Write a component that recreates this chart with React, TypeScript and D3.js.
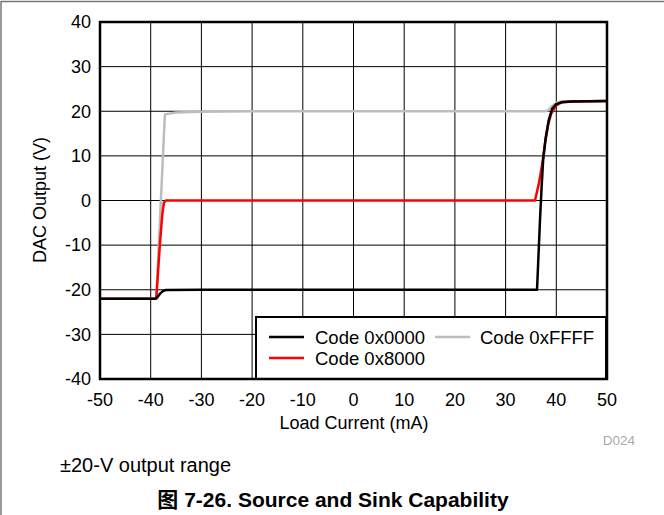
import React from "react";
import * as d3 from "d3";

const xTicks = [-50, -40, -30, -20, -10, 0, 10, 20, 30, 40, 50];
const yTicks = [-40, -30, -20, -10, 0, 10, 20, 30, 40];

// Code 0x0000
const blackX = [-50, -39.1, -38.6, -38.1, -37.6, -37, -30, 0, 36.2, 36.5, 36.8, 37.1, 37.4, 37.9, 38.5, 39.2, 40, 41, 43, 50];
const blackY = [-22, -22, -21.6, -20.8, -20.3, -20.05, -20, -20, -20, -12, -4, 3, 9, 14, 18, 20.6, 21.6, 22, 22.2, 22.3];
// Code 0x8000
const redX = [-50, -38.9, -38.2, -37.7, -37.4, -37, 0, 35.8, 36.6, 37.2, 37.8, 38.4, 39, 40, 41, 43, 50];
const redY = [-22, -22, -10, -3, -0.5, 0, 0, 0, 4, 8, 13, 17, 19.5, 21.3, 22, 22.2, 22.3];
// Code 0xFFFF
const grayX = [-50, -38.9, -37.2, -35, -30, -20, 0, 37.8, 38.5, 39.2, 40, 41, 50];
const grayY = [-22, -22, 19.3, 19.7, 19.9, 20, 20, 20, 20.3, 21.2, 21.9, 22.2, 22.3];

const legendItems = ["Code 0x0000", "Code 0xFFFF", "Code 0x8000"];

const FONT = "'Liberation Sans', Arial, 'Noto Sans CJK SC', sans-serif";

export default function App() {
  const x = d3.scaleLinear().domain([-50, 50]).range([100, 607]);
  const y = d3.scaleLinear().domain([-40, 40]).range([379, 22]);
  const line = d3
    .line<[number, number]>()
    .x((d) => x(d[0]))
    .y((d) => y(d[1]));
  const pts = (xs: number[], ys: number[]) => xs.map((v, i) => [v, ys[i]] as [number, number]);

  const series = [
    { name: legendItems[1], color: "#bdbdbd", d: line(pts(grayX, grayY)) },
    { name: legendItems[2], color: "#ff0000", d: line(pts(redX, redY)) },
    { name: legendItems[0], color: "#000000", d: line(pts(blackX, blackY)) },
  ];

  return (
    <svg
      width={664}
      height={515}
      style={{ position: "absolute", left: 0, top: 0, background: "#fff" }}
      fontFamily={FONT}
    >
      <rect x={0} y={0} width={664} height={515} fill="#fff" />
      {/* frame */}
      <line x1={1} y1={1.5} x2={664} y2={1.5} stroke="#777" strokeWidth={1.5} />
      <line x1={1} y1={1} x2={1} y2={515} stroke="#777" strokeWidth={1.5} />

      {/* grid */}
      {xTicks.map((t) => (
        <line key={"gx" + t} x1={x(t)} x2={x(t)} y1={y(40)} y2={y(-40)} stroke="#000" strokeWidth={1} />
      ))}
      {yTicks.map((t) => (
        <line key={"gy" + t} x1={x(-50)} x2={x(50)} y1={y(t)} y2={y(t)} stroke="#000" strokeWidth={1} />
      ))}

      {/* series */}
      {series.map((s) => (
        <path key={s.name} d={s.d || ""} fill="none" stroke={s.color} strokeWidth={2.5} strokeLinejoin="round" />
      ))}

      {/* legend */}
      <rect x={256} y={317} width={350} height={62} fill="#fff" stroke="#000" strokeWidth={2} />
      <line x1={269} x2={304} y1={337} y2={337} stroke="#000" strokeWidth={2.5} />
      <text x={315} y={343.5} fontSize={18.5}>{legendItems[0]}</text>
      <line x1={435} x2={470} y1={337} y2={337} stroke="#bdbdbd" strokeWidth={2.5} />
      <text x={480} y={343.5} fontSize={18.5}>{legendItems[1]}</text>
      <line x1={269} x2={304} y1={358} y2={358} stroke="#ff0000" strokeWidth={2.5} />
      <text x={315} y={364.5} fontSize={18.5}>{legendItems[2]}</text>

      {/* plot border */}
      <rect x={x(-50)} y={y(40)} width={x(50) - x(-50)} height={y(-40) - y(40)} fill="none" stroke="#000" strokeWidth={2.5} />

      {/* y ticks */}
      {yTicks.map((t) => (
        <text key={"yl" + t} x={91} y={y(t)} dy="0.35em" textAnchor="end" fontSize={18}>
          {t}
        </text>
      ))}
      {/* x ticks */}
      {xTicks.map((t) => (
        <text key={"xl" + t} x={x(t)} y={400} dy="0.35em" textAnchor="middle" fontSize={18}>
          {t}
        </text>
      ))}

      <text x={354} y={429} textAnchor="middle" fontSize={18}>Load Current (mA)</text>
      <text transform={`translate(46,200) rotate(-90)`} textAnchor="middle" fontSize={18}>DAC Output (V)</text>
      <text x={635} y={445} textAnchor="end" fontSize={13.5} fill="#aaa">D024</text>

      <text x={60} y={472} fontSize={20}>±20-V output range</text>
      <text x={333} y={507} textAnchor="middle" fontSize={21} fontWeight="bold">图 7-26. Source and Sink Capability</text>
    </svg>
  );
}
